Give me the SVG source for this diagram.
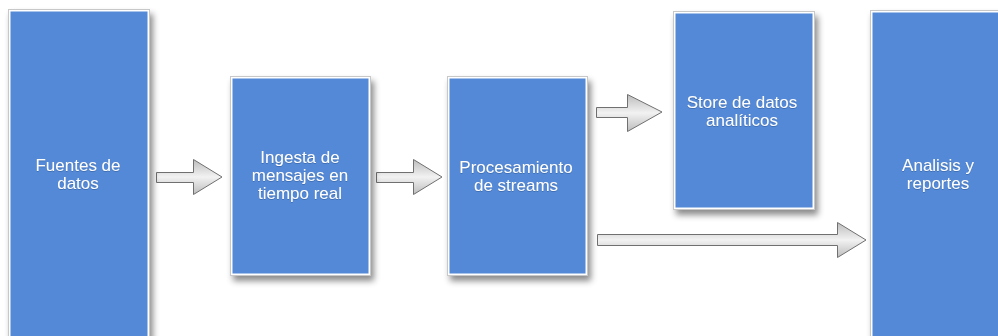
<svg xmlns="http://www.w3.org/2000/svg" width="998" height="336" viewBox="0 0 998 336">
  <defs>
    <filter id="shadow" x="-20%" y="-20%" width="150%" height="150%">
      <feDropShadow dx="3" dy="5" stdDeviation="3" flood-color="#000" flood-opacity="0.45"/>
    </filter>
    <filter id="textShade" x="-10%" y="-30%" width="120%" height="160%">
      <feDropShadow dx="0" dy="0.6" stdDeviation="0.6" flood-color="#1c3f78" flood-opacity="0.6"/>
    </filter>
    <linearGradient id="arrowFill" x1="0" y1="0" x2="0" y2="1">
      <stop offset="0" stop-color="#bcbcbc"/>
      <stop offset="0.5" stop-color="#f2f2f2"/>
      <stop offset="1" stop-color="#bcbcbc"/>
    </linearGradient>
  </defs>
  <style>
    .frame { fill: #ffffff; stroke: #c8c8c8; stroke-width: 1; filter: url(#shadow); }
    .box { fill: #5389d6; }
    .label { fill: #ffffff; font-family: "Liberation Sans", Arial, sans-serif; font-size: 17px; text-anchor: middle; filter: url(#textShade); }
    .arrow { fill: url(#arrowFill); stroke: #707070; stroke-width: 1; stroke-linejoin: miter; }
  </style>
  <rect width="998" height="336" fill="#ffffff"/>

  <g id="connectors">
    <path class="arrow" d="M156.5,172.5 H193.5 V159.5 L222,177 L193.5,194.5 V182.5 H156.5 Z"/>
    <path class="arrow" d="M376.5,172.5 H413.5 V159.5 L442,177 L413.5,194.5 V182.5 H376.5 Z"/>
    <path class="arrow" d="M596.5,107.5 H627.5 V94.5 L662,112 L627.5,131.5 V117.5 H596.5 Z"/>
    <path class="arrow" d="M597.5,234.5 H837.5 V222.5 L866,240 L837.5,257.5 V245.5 H597.5 Z"/>
  </g>

  <g id="fuentes">
    <rect class="frame" x="8.5" y="9.5" width="141" height="340"/>
    <rect class="box" x="10.5" y="11.5" width="137" height="336"/>
    <text class="label" x="78" y="171">Fuentes de</text>
    <text class="label" x="78" y="189">datos</text>
  </g>

  <g id="ingesta">
    <rect class="frame" x="230.5" y="76.5" width="140" height="199"/>
    <rect class="box" x="232.5" y="78.5" width="136" height="195"/>
    <text class="label" x="300" y="163">Ingesta de</text>
    <text class="label" x="300" y="181">mensajes en</text>
    <text class="label" x="300" y="199">tiempo real</text>
  </g>

  <g id="procesamiento">
    <rect class="frame" x="447.5" y="76.5" width="140" height="199"/>
    <rect class="box" x="449.5" y="78.5" width="136" height="195"/>
    <text class="label" x="516" y="173">Procesamiento</text>
    <text class="label" x="516" y="191">de streams</text>
  </g>

  <g id="store">
    <rect class="frame" x="673.5" y="11.5" width="141" height="198"/>
    <rect class="box" x="675.5" y="13.5" width="137" height="194"/>
    <text class="label" x="742" y="108">Store de datos</text>
    <text class="label" x="742" y="126">analíticos</text>
  </g>

  <g id="analisis">
    <rect class="frame" x="870.5" y="10.5" width="141" height="340"/>
    <rect class="box" x="872.5" y="12.5" width="137" height="336"/>
    <text class="label" x="938" y="171">Analisis y</text>
    <text class="label" x="938" y="189">reportes</text>
  </g>
</svg>
